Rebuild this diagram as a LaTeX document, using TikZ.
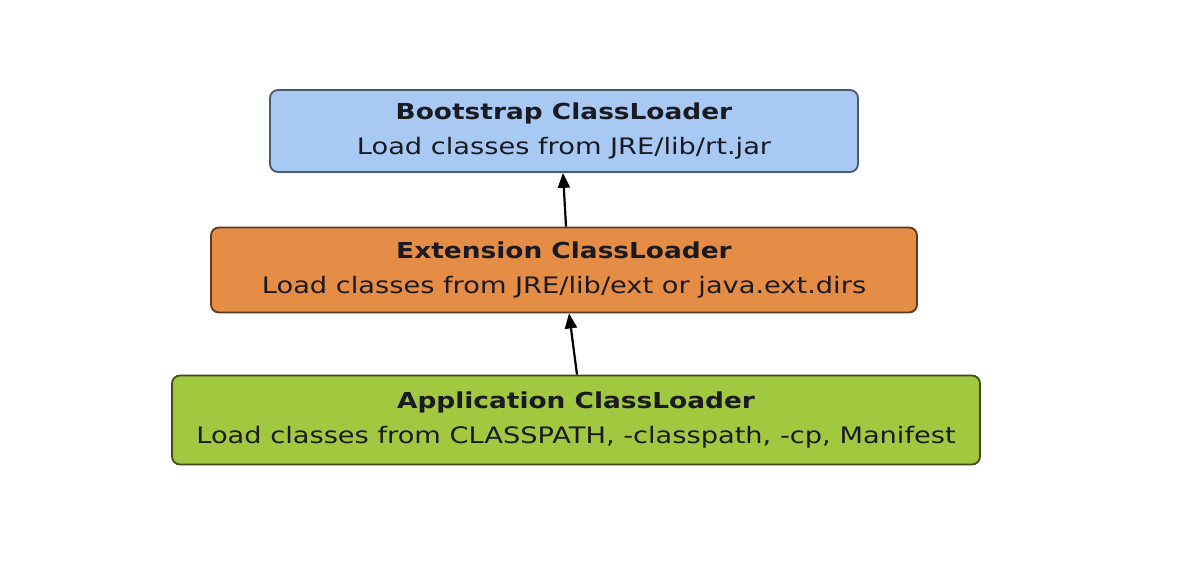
\documentclass[tikz,border=0pt]{standalone}
\usepackage{fontspec}
\setmainfont{DejaVu Sans}[FakeStretch=1.2]
\usetikzlibrary{arrows.meta}
\definecolor{bootfill}{HTML}{A7C9F4}
\definecolor{bootdraw}{HTML}{4A5A70}
\definecolor{extfill}{HTML}{E58C45}
\definecolor{extdraw}{HTML}{5A3A22}
\definecolor{appfill}{HTML}{A1C83E}
\definecolor{appdraw}{HTML}{3E4A1C}
\definecolor{txt}{HTML}{1A1A22}
\newcommand{\subline}{\fontsize{22.7}{35}\selectfont}
\tikzset{
  loaderbox/.style={draw, line width=1.8pt, rounded corners=8pt, align=center,
    text=txt, inner sep=0pt, font=\fontsize{22}{35}\selectfont},
  arr/.style={-{Triangle[length=15pt,width=12pt]}, line width=2.2pt, black}
}
\begin{document}
\begin{tikzpicture}[x=1pt,y=-1pt]
\useasboundingbox (0,0) rectangle (1180,568);
\node[loaderbox, fill=bootfill, draw=bootdraw, minimum width=588pt, minimum height=82pt] (boot) at (564,131)
  {\textbf{Bootstrap ClassLoader}\\{\subline Load classes from JRE/lib/rt.jar}};
\node[loaderbox, fill=extfill, draw=extdraw, minimum width=706pt, minimum height=85pt] (ext) at (564,270)
  {\textbf{Extension ClassLoader}\\{\subline Load classes from JRE/lib/ext or java.ext.dirs}};
\node[loaderbox, fill=appfill, draw=appdraw, minimum width=808pt, minimum height=89pt] (app) at (576,420)
  {\textbf{Application ClassLoader}\\{\subline Load classes from CLASSPATH, -classpath, -cp, Manifest}};
\draw[arr] ([xshift=2pt]ext.north) -- ([xshift=-1pt]boot.south);
\draw[arr] ([xshift=1pt]app.north) -- ([xshift=5pt]ext.south);
\end{tikzpicture}
\end{document}
